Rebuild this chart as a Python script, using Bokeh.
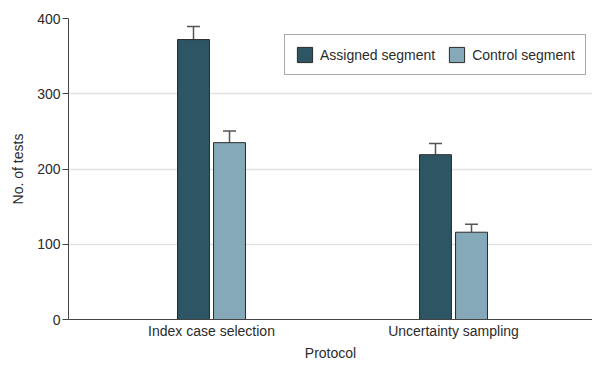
from bokeh.plotting import figure
from bokeh.models import (ColumnDataSource, Whisker, TeeHead, Legend, LegendItem,
                          FixedTicker, Range1d)
from bokeh.embed import file_html
from bokeh.resources import INLINE

# ---- data ----
protocols = ["Index case selection", "Uncertainty sampling"]
series = ["Assigned segment", "Control segment"]
assigned = [372, 219]
assigned_err = [17.5, 15]
control = [235, 116]
control_err = [15.5, 10.5]
y_ticks = [0, 100, 200, 300, 400]

FONT = "Liberation Sans"
TXT = "#2b2b2b"

W, H = 592, 363
LEFT, TOP, BOTTOM = 68, 18, 41
FRAME_H = H - TOP - BOTTOM
p = figure(width=W, height=H, output_backend="svg", toolbar_location=None,
           x_range=Range1d(-(211 - 68) / 242, 1 + (W - 453) / 242), y_range=Range1d(0, 400),
           min_border_left=LEFT, min_border_right=0, min_border_top=TOP,
           min_border_bottom=BOTTOM)
p.outline_line_color = None

xs = list(range(len(protocols)))
off = 0.0744
bw = 0.132
colors = ["#2E5564", "#85A9B8"]
vals = [assigned, control]
errs = [assigned_err, control_err]
inner_err_colors = ["#B5D0DA", "#444444"]

renderers = []
for i, (v, e) in enumerate(zip(vals, errs)):
    sign = -1 if i == 0 else 1
    src = ColumnDataSource(dict(
        x=[x + sign * off for x in xs], top=v,
        up=[a + b for a, b in zip(v, e)], lo=[a - b for a, b in zip(v, e)]))
    r = p.vbar(x="x", top="top", width=bw, source=src, fill_color=colors[i],
               line_color="#2a2a2a", line_width=1)
    renderers.append(r)
    w_up = Whisker(base="x", lower="top", upper="up", source=src, dimension="height",
                   line_color="#555555", line_width=1.5,
                   upper_head=TeeHead(size=13, line_color="#555555", line_width=1.5),
                   lower_head=None)
    w_lo = Whisker(base="x", lower="lo", upper="top", source=src, dimension="height",
                   line_color=inner_err_colors[i], line_width=1.5,
                   lower_head=TeeHead(size=13, line_color=inner_err_colors[i], line_width=1.5),
                   upper_head=None)
    p.add_layout(w_up)
    p.add_layout(w_lo)

# axes
p.yaxis.ticker = FixedTicker(ticks=y_ticks)
p.xaxis.ticker = FixedTicker(ticks=xs)
p.xaxis.major_label_overrides = {x: lab for x, lab in zip(xs, protocols)}
p.xaxis.minor_tick_line_color = None
p.yaxis.minor_tick_line_color = None
p.yaxis.major_tick_in = 0
p.yaxis.major_tick_out = 6
p.xaxis.major_tick_in = 0
p.xaxis.major_tick_out = 0
for ax in (p.xaxis, p.yaxis):
    ax.axis_line_color = "#444444"
    ax.major_label_text_font = FONT
    ax.major_label_text_font_size = "14px"
    ax.major_label_text_color = TXT
    ax.axis_label_text_font = FONT
    ax.axis_label_text_font_size = "14px"
    ax.axis_label_text_font_style = "normal"
    ax.axis_label_text_color = TXT
p.yaxis.major_tick_line_color = "#444444"
p.xaxis.major_tick_line_color = None
p.yaxis.axis_label = "No. of tests"
p.xaxis.axis_label = "Protocol"
p.yaxis.major_label_standoff = 2
p.xaxis.major_label_standoff = 3
p.xaxis.axis_label_standoff = 3
p.yaxis.axis_label_standoff = 8

p.xgrid.grid_line_color = None
p.ygrid.grid_line_color = "#E2E2E2"
p.ygrid.grid_line_width = 1.5

LEG_H = 40
legend = Legend(items=[LegendItem(label=s, renderers=[r]) for s, r in zip(series, renderers)],
                orientation="horizontal", location=(216, FRAME_H - 20 - LEG_H),
                label_text_font=FONT, label_text_font_size="14px", label_text_color=TXT,
                glyph_width=19, glyph_height=19, label_standoff=6, spacing=12,
                padding=10, margin=0, border_line_color="#555555", border_line_width=1,
                background_fill_color="white", background_fill_alpha=1)
p.add_layout(legend, "center")

open("out.html", "w").write(file_html(p, INLINE))
